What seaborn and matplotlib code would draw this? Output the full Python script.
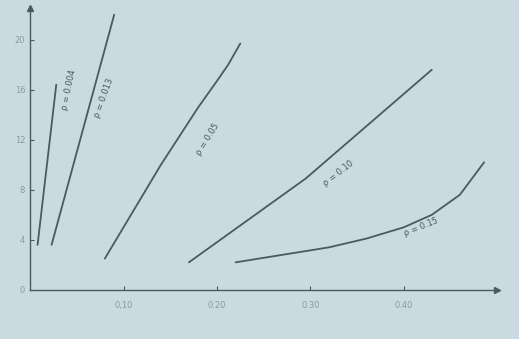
import matplotlib
matplotlib.use("Agg")
import matplotlib.pyplot as plt
import pandas as pd
import seaborn as sns

# curve data (x, n)
rho_labels = ["ρ = 0.004", "ρ = 0.013", "ρ = 0.05", "ρ = 0.10", "ρ = 0.15"]
x_004 = [0.008, 0.028]
y_004 = [3.6, 16.4]
x_013 = [0.023, 0.090]
y_013 = [3.6, 22.0]
x_05 = [0.080, 0.140, 0.180, 0.200, 0.212, 0.225]
y_05 = [2.5, 10.0, 14.6, 16.7, 18.0, 19.7]
x_10 = [0.170, 0.295, 0.430]
y_10 = [2.2, 8.9, 17.6]
x_15 = [0.220, 0.270, 0.320, 0.360, 0.400, 0.430, 0.460, 0.486]
y_15 = [2.2, 2.8, 3.4, 4.1, 5.0, 6.0, 7.6, 10.2]
x_ticks = [0.10, 0.20, 0.30, 0.40]
x_tick_labels = ["0,10", "0.20", "0.30", "0.40"]
y_ticks = [0, 4, 8, 12, 16, 20]

curves = [(x_004, y_004), (x_013, y_013), (x_05, y_05), (x_10, y_10), (x_15, y_15)]
frames = []
for lab, (xs, ys) in zip(rho_labels, curves):
    frames.append(pd.DataFrame({"x": xs, "n": ys, "rho": lab}))
df = pd.concat(frames, ignore_index=True)

bg = "#c9dbe0"
ink = "#4a5a60"
sns.set_style("ticks")
plt.rcParams["font.family"] = ["DejaVu Sans"]

fig = plt.figure(figsize=(5.19, 3.39), dpi=100, facecolor=bg)
ax = fig.add_axes([0.058, 0.145, 0.9, 0.83], facecolor=bg)

sns.lineplot(data=df, x="x", y="n", units="rho", estimator=None, sort=False,
             color=ink, linewidth=1.3, ax=ax)

# labels along the curves
label_pos = [(0.042, 16.0, 78), (0.079, 15.3, 70), (0.190, 12.0, 58),
             (0.330, 9.3, 38), (0.418, 5.0, 22)]
for lab, (tx, ty, rot) in zip(rho_labels, label_pos):
    ax.text(tx, ty, lab, rotation=rot, fontsize=6, color=ink,
            ha="center", va="center")

ax.set_xlim(0, 0.5)
ax.set_ylim(0, 22.5)
ax.set_xticks(x_ticks)
ax.set_xticklabels(x_tick_labels)
ax.set_yticks(y_ticks)
ax.tick_params(colors=ink, labelsize=6, length=3, direction="in")
ax.tick_params(axis="y", labelcolor="#8a9aa0")
ax.tick_params(axis="x", labelcolor="#8a9aa0", pad=8)
ax.set_xlabel("")
ax.set_ylabel("")
sns.despine(ax=ax)
for s in ["left", "bottom"]:
    ax.spines[s].set_color(ink)
    ax.spines[s].set_linewidth(1.0)

# axis arrows
ax.plot(1, 0, ">", color=ink, markersize=4, transform=ax.get_yaxis_transform(), clip_on=False)
ax.plot(0, 1, "^", color=ink, markersize=4, transform=ax.get_xaxis_transform(), clip_on=False)

fig.savefig("out.png", dpi=100, facecolor=bg)
